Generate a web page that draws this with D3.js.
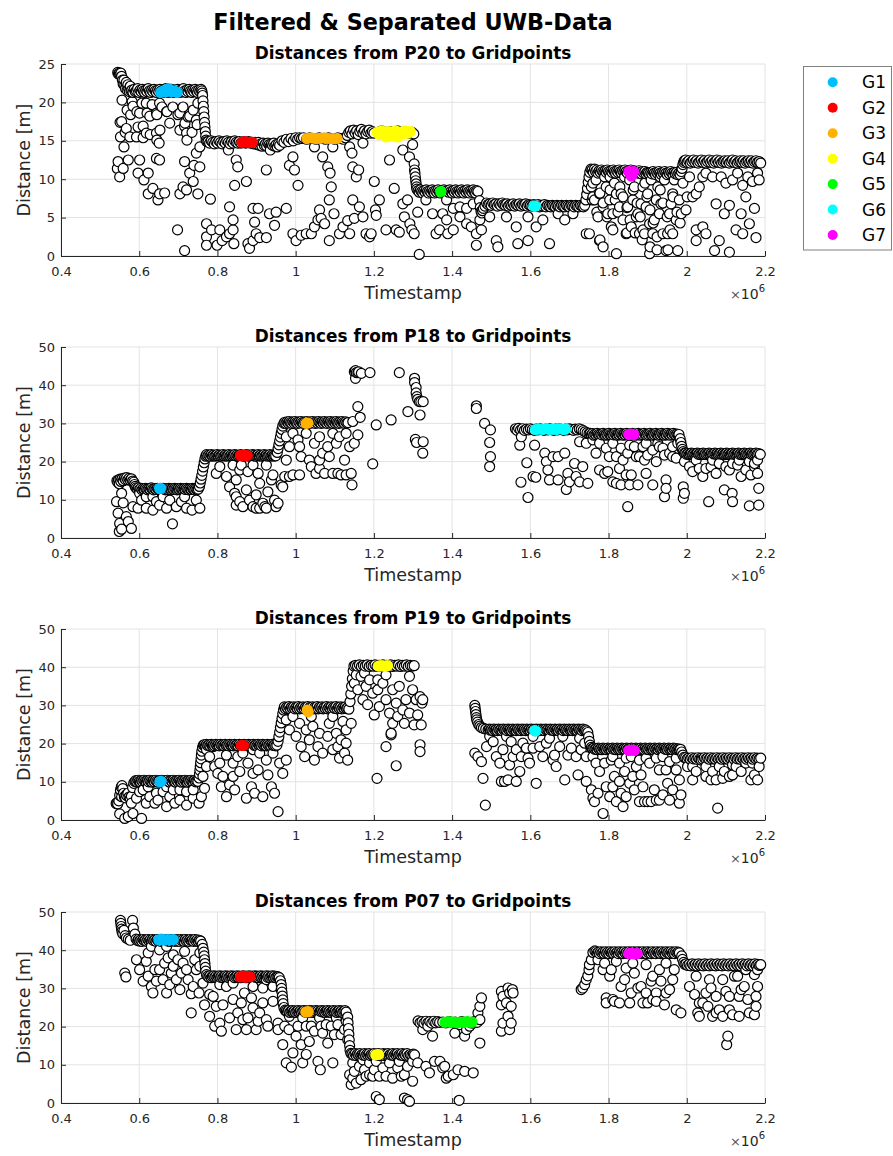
<!DOCTYPE html>
<html>
<head>
<meta charset="utf-8">
<script src="https://cdn.jsdelivr.net/npm/d3@7"></script>
<style>
  body { margin: 0; background: #fff; }
  svg { display: block; }
  text { font-family: "DejaVu Sans", "Liberation Sans", Arial, sans-serif; }
</style>
</head>
<body>
<svg id="chart" width="893" height="1156"></svg>
<script>
// Timestamps are stored in units of 10^3 (the axis shows them in units of 10^6).
// Distances are in metres. Arrays are flat: t, d, t, d, ...

const gridNames = ["G1", "G2", "G3", "G4", "G5", "G6", "G7"];
const gridColors = ["#00bfff", "#ff0000", "#ffb300", "#ffff00", "#00ff00", "#00ffff", "#ff00ff"];
const xTicks = [400, 600, 800, 1000, 1200, 1400, 1600, 1800, 2000, 2200];
const p20YTicks = [0, 5, 10, 15, 20, 25];
const wideYTicks = [0, 10, 20, 30, 40, 50];

// ---------- P20 ----------
const p20Track = [
545,23.9,547,23.7,549,23.8,551,23.6,553,23.8,555,23.4,557,22.9,559,22.4,561,22.9,563,22.2,565,21.8,567,22.6,569,21.6,571,22.3,573,21.7,575,21.4,577,22.1,579,21.5,
581,21.6,584,21.3,587,21.7,590,21.4,593,21.5,596,21.8,599,21.3,602,21.6,605,21.4,608,21.7,611,21.5,614,21.3,617,21.6,620,21.4,623,21.8,626,21.5,629,21.3,632,21.6,635,21.4,638,21.7,641,21.5,644,21.3,647,21.6,650,21.4,653,21.7,656,21.5,659,21.3,662,21.6,665,21.4,668,21.8,671,21.5,674,21.3,677,21.6,680,21.4,683,21.7,686,21.5,689,21.3,692,21.6,695,21.4,698,21.7,701,21.5,704,21.3,707,21.6,710,21.4,713,21.8,716,21.5,719,21.3,722,21.6,725,21.4,728,21.7,731,21.5,734,21.3,737,21.6,740,21.4,743,21.7,746,21.5,749,21.3,752,21.6,755,21.4,758,21.7,760,21.5,
761,21.2,762,20.9,763,20.2,764,19.5,765,18.8,766,18.1,767,17.4,768,16.8,769,16.2,770,15.6,771,15.1,773,14.9,
776,14.9,780,14.7,784,15.0,788,14.8,792,14.6,796,14.9,800,14.7,804,15.0,808,14.8,812,14.6,816,14.9,820,14.7,824,15.0,828,14.8,832,14.6,836,14.9,840,14.7,844,15.0,848,14.8,852,14.7,856,14.9,860,14.7,864,14.8,868,14.9,872,14.7,876,14.8,880,14.9,884,14.7,888,14.8,892,14.6,896,14.8,
899,14.7,902,14.5,905,14.8,908,14.4,911,14.6,914,14.3,917,14.7,920,14.4,923,14.6,926,14.3,929,14.7,932,14.5,935,14.3,938,14.6,941,14.4,944,14.7,947,14.3,950,14.5,953,14.2,956,14.6,959,14.4,
965,15.0,970,14.8,976,15.2,982,14.9,988,15.3,994,15.0,1000,15.4,1005,15.2,1010,15.4,1015,15.3,1020,15.4,1028,15.2,1036,15.4,1044,15.3,1052,15.2,1060,15.4,1068,15.3,1076,15.2,1084,15.4,1092,15.3,1100,15.2,1108,15.4,1116,15.3,1122,15.2,1127,15.4,
1132,15.7,1136,16.1,1140,16.3,1144,15.9,1148,16.4,1152,16.0,1156,16.3,1160,15.8,1164,16.2,1168,16.5,1172,16.0,1176,16.3,1180,15.9,1184,16.2,1188,16.4,1192,16.0,1196,16.2,1200,16.0,1210,16.1,1220,16.3,1230,15.9,1240,16.2,1250,16.0,1260,16.3,1270,15.9,1280,16.2,1290,16.0,1298,16.1,
1302,15.9,1303,12.0,1304,11.2,1305,10.8,1306,10.3,1307,9.8,1308,9.4,1309,9.0,1310,8.7,
1313,8.5,1316,8.3,1319,8.6,1322,8.4,1325,8.2,1328,8.5,1331,8.3,1334,8.6,1337,8.4,1340,8.2,1343,8.5,1346,8.3,1349,8.6,1352,8.4,1355,8.2,1358,8.5,1361,8.3,1364,8.6,1367,8.4,1370,8.2,1373,8.5,1376,8.3,1379,8.6,1382,8.4,1385,8.2,1388,8.5,1391,8.3,1394,8.6,1397,8.4,1400,8.2,1403,8.5,1406,8.3,1409,8.6,1412,8.4,1415,8.2,1418,8.5,1421,8.3,1424,8.6,1427,8.4,1430,8.2,1433,8.5,1436,8.3,1439,8.6,1442,8.4,1445,8.2,1448,8.5,1451,8.3,1454,8.6,1457,8.4,1460,8.2,1463,8.5,1466,8.4,
1470,7.2,1472,6.3,1474,5.8,1476,5.6,1478,5.9,1480,6.2,1484,6.5,
1488,6.9,1492,6.7,1496,6.8,1500,6.6,1504,6.9,1508,6.7,1512,6.8,1516,6.5,1520,6.8,1524,6.6,1528,6.9,1532,6.7,1536,6.6,1540,6.8,1544,6.5,1548,6.7,1552,6.6,1556,6.8,1560,6.5,1564,6.7,1568,6.6,1572,6.8,1576,6.5,1580,6.7,1584,6.6,1588,6.8,1592,6.5,1596,6.7,1600,6.6,1604,6.5,1608,6.7,1612,6.6,1616,6.5,1620,6.7,1624,6.4,1628,6.6,1632,6.5,1636,6.7,1640,6.4,1644,6.6,1648,6.5,1652,6.4,1656,6.6,1660,6.5,1664,6.4,1668,6.6,1672,6.5,1676,6.4,1680,6.6,1684,6.5,1688,6.4,1692,6.6,1696,6.5,1700,6.4,1704,6.6,1708,6.5,1712,6.4,1716,6.6,1720,6.5,1724,6.4,1728,6.6,1732,6.5,1736,6.4,1739,6.6,
1742,7.3,1744,8.0,1746,8.8,1748,9.6,1750,10.3,1752,10.9,1755,11.3,
1758,11.2,1761,10.9,1764,11.3,1767,11.0,1770,11.2,1773,10.8,1776,11.1,1779,10.9,1782,11.2,1785,11.0,1788,10.8,1791,11.1,1794,10.9,1797,11.2,1800,11.0,1803,10.8,1806,11.1,1809,10.9,1812,11.2,1815,11.0,1818,10.8,1821,11.1,1824,10.9,1827,11.2,1830,11.0,1833,10.8,1836,11.1,1839,10.9,1842,11.2,1845,11.0,1848,10.8,1851,11.1,1854,10.9,1857,11.2,1860,11.0,1863,10.8,1866,11.1,1869,10.9,1872,11.0,1875,10.8,1878,11.1,1881,10.9,1884,10.7,1887,11.0,1890,10.8,1893,11.0,1896,10.7,1899,10.9,1902,10.8,1905,10.6,1908,10.9,1911,10.7,1914,11.0,1917,10.8,1920,10.6,1923,10.9,1926,10.7,1929,11.0,1932,10.8,1935,10.6,1938,10.9,1941,10.7,1944,11.0,1947,10.8,1950,10.6,1953,10.9,1956,10.7,1959,11.0,1962,10.8,1965,10.6,1968,10.9,1971,10.7,1974,10.9,1977,10.6,1980,10.8,1983,10.6,
1986,11.0,1988,11.4,1990,11.9,1992,12.2,1994,12.4,
1997,12.5,2001,12.2,2005,12.4,2009,12.1,2013,12.3,2017,12.5,2021,12.2,2025,12.4,2029,12.1,2033,12.3,2037,12.5,2041,12.2,2045,12.4,2049,12.1,2053,12.3,2057,12.5,2061,12.2,2065,12.4,2069,12.1,2073,12.3,2077,12.5,2081,12.2,2085,12.4,2089,12.1,2093,12.3,2097,12.4,2101,12.2,2105,12.4,2109,12.1,2113,12.3,2117,12.5,2121,12.2,2125,12.4,2129,12.1,2133,12.3,2137,12.4,2141,12.2,2145,12.4,2149,12.1,2153,12.3,2157,12.4,2161,12.2,2165,12.4,2169,12.1,2173,12.3,2177,12.4,2181,12.2,2185,12.3,2189,12.1
];
const p20Outliers = [
555,17.5,552,15.5,561,14.2,546,12.3,544,11.4,550,10.3,559,11.4,572,12.5,567,16.6,578,18.4,584,19.5,593,15.5,601,12.5,597,10.8,612,9.9,623,10.8,623,8.1,635,8.8,648,7.3,652,8.1,665,8.2,644,12.7,652,12.5,651,14.7,644,16.0,618,16.0,610,16.9,627,18.2,601,18.6,644,18.6,670,18.8,678,17.3,652,19.9,618,19.9,
556,20.3,569,19.0,582,20.1,594,18.8,607,19.9,620,18.6,633,19.7,645,18.4,658,19.4,671,18.8,686,19.4,699,18.4,712,19.4,725,18.1,738,19.0,750,19.9,551,17.4,564,16.1,576,15.5,597,16.8,610,15.4,628,15.8,645,15.1,653,16.4,717,17.3,704,16.4,722,15.1,735,16.1,748,17.1,
698,3.4,716,0.7,704,8.1,712,9.0,721,8.6,738,9.7,729,10.8,740,11.8,755,11.6,716,12.3,750,8.1,746,13.4,704,18.6,716,16.9,721,16.0,729,18.2,746,17.7,755,14.2,
782,7.4,772,4.2,772,2.5,772,1.4,785,3.4,799,1.4,806,3.4,812,2.0,823,2.5,831,2.9,840,3.4,842,1.6,844,9.2,831,6.4,840,4.7,848,12.5,852,11.6,828,13.8,874,9.7,878,1.6,882,1.0,891,2.0,895,4.4,899,2.9,908,2.4,925,2.4,891,6.2,904,6.2,925,11.2,933,5.5,950,5.7,946,4.0,935,13.8,976,6.2,984,11.8,993,12.9,997,11.2,1006,9.2,993,2.9,1001,2.0,1014,2.7,1027,2.9,1040,2.9,1048,3.8,1057,4.7,1065,4.9,1086,7.3,1086,2.0,1061,6.0,1074,4.2,1048,14.2,1069,12.9,1082,11.6,1095,14.2,1088,10.8,1091,9.0,1098,5.5,1112,2.9,1121,3.8,1133,4.6,1138,2.9,1146,7.3,1150,4.9,1155,10.3,1161,11.2,1163,6.4,1172,5.1,1180,2.9,1189,2.5,1201,9.7,1204,6.0,1206,5.3,1193,2.9,1146,11.6,1144,13.4,1138,14.2,1172,14.7,1214,7.3,1231,3.4,1240,12.5,1252,8.8,1257,3.4,1265,3.1,1274,6.8,1278,5.1,1286,7.3,1292,4.2,1297,3.4,1303,2.9,1312,5.7,1316,0.2,1291,12.9,1299,14.5,1274,13.8,1333,7.3,1350,5.5,1359,2.9,1376,5.5,1389,2.9,1368,3.4,
1386,4.7,1403,3.4,1420,5.1,1437,4.2,1449,3.8,1462,2.9,1462,1.4,1475,3.4,1454,6.8,1420,6.4,1437,6.2,1403,6.2,1386,7.3,1471,4.7,1496,5.1,1513,2.0,1517,1.2,1564,3.8,1568,1.6,1594,2.0,1594,5.1,1615,3.8,1649,1.6,1688,4.7,1743,2.9,1777,2.0,1786,1.2,1820,0.3,1539,5.1,1632,4.7,1709,5.5,1671,5.5,
1768,9.9,1777,8.1,1786,6.4,1794,9.0,1803,7.3,1811,5.5,1820,8.1,1828,6.4,1837,4.7,1845,2.9,1854,9.9,1862,7.3,1871,5.1,1879,2.9,1888,9.0,1896,6.4,1905,4.2,1905,0.3,1913,2.9,1922,7.3,1930,5.5,1939,2.9,1947,0.7,1956,5.5,1964,8.1,1973,4.7,1977,0.7,1981,7.3,1998,6.0,2015,7.7,2024,2.0,1756,9.0,1764,7.3,1773,5.1,1790,10.3,1798,5.5,1807,3.8,1815,9.5,1832,8.1,1841,10.3,1849,6.4,1858,3.8,1866,9.0,1875,5.5,1883,6.8,1892,2.9,1900,8.1,1909,9.9,1917,4.7,1926,9.0,1934,6.8,1943,9.9,1951,2.9,1960,6.8,1968,9.9,1986,5.5,1964,2.9,1751,2.9,1760,7.7,
1760,9.5,1778,8.2,1758,7.3,1770,5.7,1786,6.9,1804,8.6,1796,5.1,1817,7.3,1829,9.0,1824,5.7,1837,7.7,1847,6.3,1855,4.7,1863,8.6,1873,6.9,1881,5.1,1888,3.4,1898,7.7,1906,6.0,1914,4.3,1924,2.5,1932,8.6,1939,6.9,1950,5.1,1957,3.4,1965,7.7,1975,5.7,1983,4.3,1990,9.5,2001,7.7,1924,0.8,1952,0.8,1906,1.2,1886,2.1,1868,3.0,1847,3.0,1811,3.4,1778,2.1,1893,9.5,1932,10.3,1804,10.3,
2024,8.1,2041,3.8,2049,2.9,2075,6.8,2083,2.0,2071,0.7,2096,5.5,2109,6.6,2109,0.5,2126,3.4,2143,2.9,2151,7.7,2160,4.2,2173,6.2,2177,2.4,2185,9.9,2117,9.9,2143,9.2,2168,9.7,2007,10.3,2041,10.3,2066,10.3,2088,10.3,2100,9.5,2032,9.0,2024,3.4,2049,10.8,2130,10.8,2156,10.3,2181,10.8,2139,5.5
];
// gridpoint samples: t, d, gridpoint number
const p20Grid = [
655,21.3,1,662,21.5,1,669,21.4,1,675,21.8,1,682,21.4,1,689,21.5,1,697,21.3,1,
863,14.8,2,870,14.9,2,877,14.8,2,884,14.8,2,889,14.8,2,
1029,15.3,3,1040,15.4,3,1051,15.3,3,1062,15.3,3,1073,15.4,3,1084,15.3,3,1095,15.3,3,1106,15.3,3,
1208,16.1,4,1214,15.8,4,1220,16.3,4,1226,16.0,4,1232,15.5,4,1238,16.2,4,1244,16.0,4,1250,15.6,4,1256,16.3,4,1262,15.5,4,1268,16.1,4,1275,15.9,4,1281,16.3,4,1287,16.0,4,1293,16.2,4,
1371,8.4,5,
1609,6.5,6,1613,6.5,6,
1852,11.0,7,1858,10.8,7,1864,11.0,7,1858,10.4,7
];

// ---------- P18 ----------
const p18Track = [
543,15.0,545,14.6,547,15.2,549,14.2,551,15.4,553,14.8,556,15.5,559,15.0,562,15.7,565,15.3,568,15.8,571,15.2,574,15.6,577,15.1,580,15.5,583,14.9,586,14.6,588,14.0,590,13.5,592,13.1,
595,12.8,598,13.1,601,12.7,604,13.0,607,12.6,610,12.9,613,12.7,616,13.0,619,12.8,622,12.6,625,12.9,628,12.7,631,13.1,634,12.8,637,12.6,640,12.9,643,12.7,646,13.0,649,12.8,652,12.6,655,12.9,658,12.7,661,13.0,664,12.8,667,12.6,670,12.9,673,12.7,676,13.0,679,12.8,682,12.6,685,12.9,688,12.7,691,13.0,694,12.8,697,12.6,700,12.9,703,12.7,706,13.0,709,12.8,712,12.6,715,12.9,718,12.7,721,13.0,724,12.8,727,12.6,730,12.9,733,12.7,736,13.0,739,12.8,742,12.6,745,12.9,748,12.7,751,12.8,
754,13.5,756,14.4,758,15.4,760,16.4,762,17.5,764,18.6,766,19.7,768,20.7,770,21.4,
772,21.8,775,21.5,778,21.7,781,21.4,784,21.8,787,21.5,790,21.7,793,21.4,796,21.6,799,21.8,802,21.5,805,21.7,808,21.4,811,21.6,814,21.8,817,21.5,820,21.7,823,21.4,826,21.6,829,21.8,832,21.5,835,21.7,838,21.4,841,21.6,844,21.8,847,21.5,850,21.7,853,21.4,856,21.6,859,21.8,862,21.5,865,21.7,868,21.4,871,21.6,874,21.8,877,21.5,880,21.7,883,21.4,886,21.6,889,21.8,892,21.5,895,21.7,898,21.4,901,21.6,904,21.8,907,21.5,910,21.7,913,21.4,916,21.6,919,21.8,922,21.5,925,21.7,928,21.4,931,21.6,934,21.8,937,21.5,940,21.7,943,21.4,946,21.6,949,21.5,
953,22.4,955,23.4,957,24.4,959,25.4,961,26.4,963,27.4,965,28.4,967,29.3,970,30.0,
972,30.3,975,30.0,978,30.4,981,30.1,984,30.5,987,30.2,990,30.0,993,30.4,996,30.1,999,30.5,1002,30.2,1005,30.0,1008,30.4,1011,30.1,1014,30.5,1017,30.2,1020,30.0,1023,30.4,1026,30.1,1029,30.5,1032,30.2,1035,30.0,1038,30.4,1041,30.1,1044,30.5,1047,30.2,1050,30.0,1053,30.4,1056,30.1,1059,30.5,1062,30.2,1065,30.0,1068,30.4,1071,30.1,1074,30.5,1077,30.2,1080,30.0,1083,30.4,1086,30.1,1089,30.5,1092,30.2,1095,30.0,1098,30.4,1101,30.1,1104,30.5,1107,30.2,1110,30.0,1113,30.4,1116,30.1,1119,30.5,1122,30.2,1125,30.0,1128,30.4,1131,30.1,1134,30.2,
1562,28.6,1566,28.2,1570,28.7,1575,28.3,1580,28.6,1585,28.2,1590,28.5,1595,28.3,1600,28.6,1605,28.4,1610,28.2,1615,28.5,1620,28.3,1625,28.6,1630,28.4,1635,28.2,1640,28.5,1645,28.3,1650,28.6,1655,28.4,1660,28.2,1665,28.5,1670,28.3,1675,28.6,1680,28.4,1685,28.2,1690,28.5,1695,28.3,1700,28.6,1705,28.4,1710,28.2,1715,28.5,1720,28.3,1725,28.6,1730,28.4,1735,28.1,
1740,27.8,1745,27.5,1750,27.3,
1753,27.4,1756,27.0,1759,27.3,1762,26.9,1765,27.2,1768,27.0,1771,27.4,1774,27.1,1777,26.9,1780,27.2,1783,27.0,1786,27.4,1789,27.1,1792,26.9,1795,27.2,1798,27.0,1801,27.4,1804,27.1,1807,26.9,1810,27.2,1813,27.0,1816,27.4,1819,27.1,1822,26.9,1825,27.2,1828,27.0,1831,27.4,1834,27.1,1837,26.9,1840,27.2,1843,27.0,1846,27.4,1849,27.1,1852,26.9,1855,27.2,1858,27.0,1861,27.4,1864,27.1,1867,26.9,1870,27.2,1873,27.0,1876,27.4,1879,27.1,1882,26.9,1885,27.2,1888,27.0,1891,27.4,1894,27.1,1897,26.9,1900,27.2,1903,27.0,1906,27.4,1909,27.1,1912,26.9,1915,27.2,1918,27.0,1921,27.4,1924,27.1,1927,26.9,1930,27.2,1933,27.0,1936,27.4,1939,27.1,1942,26.9,1945,27.2,1948,27.0,1951,27.4,1954,27.1,1957,26.9,1960,27.2,1963,27.0,1966,27.4,1969,27.1,1972,26.9,1975,27.2,1978,27.0,1980,27.1,
1983,26.0,1985,25.0,1987,24.0,1989,23.2,1991,22.6,1994,22.2,
1997,22.2,2000,21.9,2003,22.1,2006,21.8,2009,22.0,2012,22.2,2015,21.9,2018,22.1,2021,21.8,2024,22.0,2027,22.2,2030,21.9,2033,22.1,2036,21.8,2039,22.0,2042,22.2,2045,21.9,2048,22.1,2051,21.8,2054,22.0,2057,22.2,2060,21.9,2063,22.1,2066,21.8,2069,22.0,2072,22.2,2075,21.9,2078,22.1,2081,21.8,2084,22.0,2087,22.2,2090,21.9,2093,22.1,2096,21.8,2099,22.0,2102,22.2,2105,21.9,2108,22.1,2111,21.8,2114,22.0,2117,22.2,2120,21.9,2123,22.1,2126,21.8,2129,22.0,2132,22.2,2135,21.9,2138,22.1,2141,21.8,2144,22.0,2147,22.2,2150,21.9,2153,22.1,2156,21.8,2159,22.0,2162,22.2,2165,21.9,2168,22.1,2171,21.8,2174,22.0,2177,22.2,2180,21.9,2184,22.1,2188,21.9
];
const p18Outliers = [
542,9.5,546,6.5,550,3.8,549,1.7,555,2.3,567,5.6,572,4.3,580,2.5,555,11.7,559,9.2,584,8.2,597,7.8,606,9.9,618,7.8,635,7.3,644,9.5,652,8.6,670,7.8,685,3.7,678,9.9,695,8.2,708,9.5,721,7.8,735,7.3,746,9.9,755,7.8,635,10.8,601,11.7,618,10.8,661,10.8,716,10.8,
797,16.9,806,18.7,823,16.1,831,13.4,840,19.1,844,11.7,848,15.2,857,9.5,865,8.2,874,12.6,878,17.4,882,9.9,891,8.2,899,11.3,904,16.9,908,14.3,916,9.1,925,7.8,929,12.1,938,15.2,946,9.9,955,9.1,950,8.2,942,16.5,963,13.9,972,16.1,925,19.1,891,19.1,861,19.1,848,8.6,899,7.8,908,7.8,921,8.2,848,10.8,857,17.8,
976,26.5,984,23.9,993,27.4,1006,25.7,1014,21.3,1027,27.4,1035,20.4,1040,18.7,1048,24.8,1061,18.2,1069,22.2,1074,16.9,1082,23.9,1086,21.3,1095,16.9,1104,24.8,1108,16.9,1116,16.5,1125,20.4,1129,16.5,1138,23.9,1142,16.9,1144,13.9,1150,24.8,1159,27.0,1129,27.4,1010,16.5,993,16.5,984,16.1,976,20.4,967,13.4,1061,20.4,1052,16.9,1061,26.5,1095,27.4,1112,26.5,1010,23.9,
1150,43.5,1153,43.8,1155,43.3,1159,43.3,1161,43.5,1168,43.1,1153,41.8,1190,43.3,1265,43.3,1159,34.4,1165,31.6,1146,30.5,1206,29.6,1197,19.4,1244,30.9,1287,33.1,1304,41.8,1304,40.7,1308,39.4,1308,38.0,1310,37.0,1312,36.3,1316,35.7,1320,35.7,1326,35.7,1318,32.2,1306,25.8,1309,25.0,1326,25.2,1325,22.2,
1462,34.6,1462,33.9,1483,30.0,1498,28.3,1496,25.0,1498,21.3,1496,18.7,
1573,24.3,1577,26.5,1591,19.7,1576,14.6,1594,10.6,1607,16.1,1614,15.9,1611,24.3,1637,22.2,1641,20.0,1645,17.8,1649,15.2,1658,21.3,1671,21.3,1671,15.2,1688,22.2,1696,16.9,1700,14.7,1692,12.7,1713,19.5,1717,16.1,1726,14.7,1734,18.7,1747,14.3,1726,25.2,1743,24.8,
1760,25.7,1768,22.2,1777,17.8,1790,16.9,1798,17.4,1802,21.3,1811,14.7,1820,14.3,1828,18.2,1832,13.9,1845,16.5,1849,22.2,1854,13.9,1858,16.5,1866,23.9,1875,13.9,1879,21.3,1888,23.9,1896,16.9,1900,21.7,1913,13.9,1922,20.0,1930,23.9,1939,23.5,1947,15.2,1947,13.0,1943,10.8,1956,22.2,1964,23.9,1973,20.9,1991,13.4,1994,11.7,1991,10.4,1849,8.2,1777,24.8,1794,23.5,1811,24.8,1832,23.5,1854,24.3,1871,21.3,1896,24.8,1913,23.0,1926,24.8,1943,21.7,1964,21.3,1977,24.8,1820,21.3,1837,20.4,1892,20.4,
1994,20.0,2007,18.7,2015,17.4,2032,18.2,2041,16.1,2049,18.2,2062,18.7,2075,16.9,2083,19.5,2100,18.7,2109,17.8,2117,19.5,2130,19.1,2139,16.1,2151,17.8,2164,16.5,2173,18.7,2181,16.9,2184,13.0,2056,9.5,2096,12.6,2116,11.7,2117,9.5,2160,8.4,2184,8.6,2173,19.5,2024,20.4,2066,20.4,2134,20.4,2160,20.0,2181,20.4
];
const p18Grid = [
652,13.0,1,655,13.0,1,
859,21.6,2,864,21.7,2,870,21.6,2,876,21.6,2,
1027,30.0,3,1031,30.1,3,
1613,28.4,6,1622,28.5,6,1631,28.4,6,1640,28.6,6,1649,28.4,6,1658,28.5,6,1667,28.4,6,1676,28.6,6,1685,28.4,6,1690,28.5,6,
1852,27.1,7,1858,27.2,7,1864,27.1,7
];

// ---------- P19 ----------
const p19Track = [
541,4.3,543,4.5,545,4.2,548,5.0,550,6.5,552,7.8,554,8.6,556,9.0,558,8.2,560,7.0,562,6.1,565,5.8,568,6.4,571,7.0,574,6.0,577,5.6,580,6.2,583,8.5,586,9.6,589,10.1,
591,10.3,594,10.0,597,10.4,600,10.1,603,9.9,606,10.3,609,10.0,612,10.4,615,10.1,618,9.9,621,10.3,624,10.0,627,10.4,630,10.1,633,9.9,636,10.3,639,10.0,642,10.4,645,10.1,648,9.9,651,10.3,654,10.0,657,10.4,660,10.1,663,9.9,666,10.3,669,10.0,672,10.4,675,10.1,678,9.9,681,10.3,684,10.0,687,10.4,690,10.1,693,9.9,696,10.3,699,10.0,702,10.4,705,10.1,708,9.9,711,10.3,714,10.0,717,10.4,720,10.1,723,9.9,726,10.3,729,10.0,732,10.4,735,10.1,738,9.9,741,10.3,744,10.0,747,10.2,750,10.1,
753,11.0,754,12.0,755,13.0,756,14.0,757,15.0,758,16.0,759,17.0,760,18.0,762,19.0,764,19.6,
766,19.7,769,19.4,772,19.8,775,19.5,778,19.7,781,19.4,784,19.8,787,19.5,790,19.7,793,19.4,796,19.8,799,19.5,802,19.7,805,19.4,808,19.8,811,19.5,814,19.7,817,19.4,820,19.8,823,19.5,826,19.7,829,19.4,832,19.8,835,19.5,838,19.7,841,19.4,844,19.8,847,19.5,850,19.7,853,19.4,856,19.8,859,19.5,862,19.7,865,19.4,868,19.8,871,19.5,874,19.7,877,19.4,880,19.8,883,19.5,886,19.7,889,19.4,892,19.8,895,19.5,898,19.7,901,19.4,904,19.8,907,19.5,910,19.7,913,19.4,916,19.8,919,19.5,922,19.7,925,19.4,928,19.8,931,19.5,934,19.7,937,19.4,940,19.8,943,19.5,946,19.7,949,19.4,952,19.6,
955,20.6,957,21.8,959,23.0,961,24.2,963,25.4,965,26.6,967,27.8,969,28.8,
971,29.6,974,29.1,977,29.5,980,29.2,983,29.7,986,29.1,989,29.5,992,29.2,995,29.6,998,29.1,1001,29.5,1004,29.2,1007,29.7,1010,29.1,1013,29.5,1016,29.2,1019,29.6,1022,29.1,1025,29.5,1028,29.2,1031,29.7,1034,29.1,1037,29.5,1040,29.2,1043,29.6,1046,29.1,1049,29.5,1052,29.2,1055,29.7,1058,29.1,1061,29.5,1064,29.2,1067,29.6,1070,29.1,1073,29.5,1076,29.2,1079,29.7,1082,29.1,1085,29.5,1088,29.2,1091,29.6,1094,29.1,1097,29.5,1100,29.2,1103,29.7,1106,29.1,1109,29.5,1112,29.2,1115,29.6,1118,29.1,1121,29.5,1124,29.2,1127,29.6,1130,29.2,1133,29.4,1136,29.0,
1139,31.0,1141,33.0,1143,35.0,1145,37.0,1147,39.0,1149,40.3,
1153,40.5,1158,40.3,1163,40.6,1168,40.2,1173,40.5,1178,40.3,1183,40.6,1188,40.2,1193,40.5,1198,40.3,1203,40.6,1208,40.2,1213,40.5,1218,40.3,1223,40.6,1228,40.2,1233,40.5,1238,40.3,1243,40.6,1248,40.2,1253,40.5,1258,40.3,1263,40.6,1268,40.2,1273,40.5,1278,40.3,1283,40.6,1288,40.2,1293,40.5,1298,40.3,1303,40.4,
1458,30.0,1459,29.2,1460,28.4,1461,27.6,1462,26.8,1463,26.2,1465,25.6,1468,25.0,1471,24.6,1475,24.2,1480,24.0,1486,23.8,1492,23.6,
1495,23.8,1498,23.5,1501,23.7,1504,23.4,1507,23.8,1510,23.5,1513,23.7,1516,23.4,1519,23.8,1522,23.5,1525,23.7,1528,23.4,1531,23.8,1534,23.5,1537,23.7,1540,23.4,1543,23.8,1546,23.5,1549,23.7,1552,23.4,1555,23.8,1558,23.5,1561,23.7,1564,23.4,1567,23.8,1570,23.5,1573,23.7,1576,23.4,1579,23.8,1582,23.5,1585,23.7,1588,23.4,1591,23.8,1594,23.5,1597,23.7,1600,23.4,1603,23.8,1606,23.5,1609,23.7,1612,23.4,1615,23.8,1618,23.5,1621,23.7,1624,23.4,1627,23.8,1630,23.5,1633,23.7,1636,23.4,1639,23.8,1642,23.5,1645,23.7,1648,23.4,1651,23.8,1654,23.5,1657,23.7,1660,23.4,1663,23.8,1666,23.5,1669,23.7,1672,23.4,1675,23.8,1678,23.5,1681,23.7,1684,23.4,1687,23.8,1690,23.5,1693,23.7,1696,23.4,1699,23.8,1702,23.5,1705,23.7,1708,23.4,1711,23.8,1714,23.5,1717,23.7,1720,23.4,1723,23.8,1726,23.5,1729,23.7,1732,23.4,1735,23.8,1738,23.5,1741,23.6,1744,23.3,
1747,22.9,1749,21.8,1751,20.6,1753,19.6,1756,19.0,1759,18.7,
1762,18.8,1765,18.5,1768,18.7,1771,18.4,1774,18.8,1777,18.5,1780,18.7,1783,18.4,1786,18.8,1789,18.5,1792,18.7,1795,18.4,1798,18.8,1801,18.5,1804,18.7,1807,18.4,1810,18.8,1813,18.5,1816,18.7,1819,18.4,1822,18.8,1825,18.5,1828,18.7,1831,18.4,1834,18.8,1837,18.5,1840,18.7,1843,18.4,1846,18.8,1849,18.5,1852,18.7,1855,18.4,1858,18.8,1861,18.5,1864,18.7,1867,18.4,1870,18.8,1873,18.5,1876,18.7,1879,18.4,1882,18.8,1885,18.5,1888,18.7,1891,18.4,1894,18.8,1897,18.5,1900,18.7,1903,18.4,1906,18.8,1909,18.5,1912,18.7,1915,18.4,1918,18.8,1921,18.5,1924,18.7,1927,18.4,1930,18.8,1933,18.5,1936,18.7,1939,18.4,1942,18.8,1945,18.5,1948,18.7,1951,18.4,1954,18.8,1957,18.5,1960,18.7,1963,18.4,1966,18.8,1969,18.5,1972,18.7,1975,18.4,1978,18.6,1981,18.4,1984,18.5,
1987,17.8,1990,17.0,1993,16.4,
1997,16.3,2001,16.0,2005,16.2,2009,15.9,2013,16.3,2017,16.0,2021,16.2,2025,15.9,2029,16.3,2033,16.0,2037,16.2,2041,15.9,2045,16.3,2049,16.0,2053,16.2,2057,15.9,2061,16.3,2065,16.0,2069,16.2,2073,15.9,2077,16.3,2081,16.0,2085,16.2,2089,15.9,2093,16.3,2097,16.0,2101,16.2,2105,15.9,2109,16.3,2113,16.0,2117,16.2,2121,15.9,2125,16.3,2129,16.0,2133,16.2,2137,15.9,2141,16.3,2145,16.0,2149,16.2,2153,15.9,2157,16.3,2161,16.0,2165,16.2,2169,15.9,2173,16.3,2177,16.0,2181,16.2,2185,16.0,2189,16.2
];
const p19Outliers = [
550,1.6,563,0.4,572,0.9,584,1.7,606,0.4,555,6.1,567,6.6,580,4.4,593,5.7,601,7.4,618,4.4,627,6.1,640,4.4,648,5.2,661,7.4,670,3.5,678,6.1,691,4.4,704,5.2,721,3.9,738,5.7,753,4.4,759,6.1,767,8.3,644,7.0,687,7.9,610,7.9,623,8.7,721,7.4,670,8.7,704,7.9,738,7.9,
772,18.4,780,16.6,793,14.0,801,12.2,806,14.9,814,11.4,823,6.1,831,9.2,840,14.9,840,11.4,852,16.6,857,12.7,865,17.5,874,5.7,878,14.9,887,8.7,895,7.0,904,13.1,908,17.5,916,6.1,925,15.7,929,11.8,938,8.7,946,7.0,955,2.2,959,14.9,967,12.2,976,15.7,789,19.2,823,17.0,891,18.4,763,11.4,772,14.0,810,8.7,844,7.9,891,12.2,942,17.5,
976,26.2,984,23.6,993,27.1,1001,21.9,1010,25.3,1014,19.2,1023,16.6,1027,23.6,1035,21.0,1040,27.1,1048,15.7,1057,19.2,1061,22.7,1069,17.5,1082,21.9,1086,25.3,1095,18.4,1104,22.7,1108,19.2,1112,16.2,1116,21.0,1125,17.5,1129,23.6,1133,15.7,1142,25.3,1129,20.1,1044,24.5,1095,27.1,1121,25.8,
1150,35.8,1159,34.1,1167,37.6,1172,31.5,1180,35.0,1184,30.2,1189,36.7,1197,33.2,1201,27.5,1210,34.1,1214,29.7,1223,35.8,1231,19.2,1231,31.5,1240,28.0,1244,22.3,1248,34.1,1257,30.6,1261,27.1,1265,35.0,1274,28.8,1278,25.3,1282,31.5,1291,28.0,1299,34.1,1303,24.9,1308,31.5,1312,27.5,1318,32.3,1325,31.5,1323,30.6,1321,24.9,1318,19.7,1318,17.9,1208,10.9,1257,14.2,1244,22.7,1210,36.7,1176,38.5,1155,38.0,1231,38.0,1291,37.6,1248,25.3,
1458,17.5,1466,16.6,1475,15.3,1479,10.9,1485,3.9,1488,19.2,1505,20.5,1513,16.6,1522,14.9,1526,10.1,1534,10.1,1543,10.5,1547,14.4,1551,20.5,1556,16.6,1564,10.1,1573,12.7,1577,16.6,1581,20.1,1590,18.8,1594,16.2,1598,14.9,1607,18.8,1615,9.6,1624,19.2,1632,16.6,1641,20.1,1658,15.7,1662,17.0,1666,14.0,1675,19.2,1688,10.5,1696,17.0,1705,18.8,1717,16.6,1722,11.8,1730,18.4,1739,20.1,1743,16.6,1496,21.9,1539,21.9,1607,21.9,1649,21.4,1683,21.9,1726,21.4,1530,18.4,1564,18.4,
1743,10.1,1756,7.9,1760,5.7,1764,4.8,1773,7.0,1777,12.7,1786,1.7,1790,14.9,1794,8.7,1803,6.1,1807,15.7,1815,11.4,1820,4.8,1828,10.1,1837,3.5,1841,12.7,1845,6.1,1854,9.6,1858,16.6,1866,7.9,1871,14.0,1879,4.8,1883,11.8,1892,4.8,1900,4.8,1909,4.8,1917,7.9,1922,5.2,1930,5.2,1930,13.1,1939,6.6,1947,13.1,1951,9.6,1956,5.2,1964,7.9,1973,16.2,1973,13.1,1981,4.4,1985,6.6,1981,10.5,1922,16.2,1896,16.2,1760,16.6,1768,14.9,1811,16.6,1828,14.9,1845,16.2,1879,15.7,1905,14.9,1939,16.6,1956,15.3,1888,8.7,1862,11.4,1811,8.7,1832,7.0,
2002,14.0,2015,10.5,2024,12.7,2037,15.7,2049,11.4,2062,10.5,2075,10.5,2079,3.1,2092,10.9,2109,11.4,2117,11.8,2126,14.0,2139,12.7,2151,14.9,2164,10.5,2173,11.8,2181,10.5,2185,14.0,2168,14.9,2015,14.0,2049,14.0,2083,14.0,2117,14.4,2066,12.7,2096,12.7
];
const p19Grid = [
653,10.0,1,656,10.1,1,
861,19.5,2,867,19.5,2,
1030,28.8,3,1032,28.3,3,
1212,40.3,4,1218,40.4,4,1224,40.3,4,1230,40.3,4,1235,40.4,4,
1611,23.4,6,1614,23.3,6,
1852,18.2,7,1859,18.3,7,1866,18.2,7
];

// ---------- P07 ----------
const p07Track = [
552,47.8,553,47.0,554,46.2,555,45.5,556,44.9,558,44.3,561,45.2,564,43.8,567,43.2,572,42.9,577,42.6,583,47.8,585,45.8,589,44.2,592,42.9,596,42.5,
598,42.8,601,42.4,604,42.7,607,42.3,610,42.8,613,42.5,616,42.7,619,42.3,622,42.8,625,42.4,628,42.7,631,42.3,634,42.8,637,42.5,640,42.7,643,42.3,646,42.8,649,42.4,652,42.7,655,42.3,658,42.8,661,42.5,664,42.7,667,42.3,670,42.8,673,42.4,676,42.7,679,42.3,682,42.8,685,42.5,688,42.7,691,42.3,694,42.8,697,42.4,700,42.7,703,42.3,706,42.8,709,42.5,712,42.7,715,42.3,718,42.8,721,42.4,724,42.7,727,42.3,730,42.8,733,42.5,736,42.7,739,42.3,742,42.8,745,42.4,748,42.7,751,42.3,754,42.6,757,42.4,
761,41.5,763,40.5,765,39.5,766,38.5,767,37.5,768,36.5,769,35.5,770,34.5,772,33.6,
775,33.2,778,32.9,781,33.3,784,32.8,787,33.1,790,33.3,793,32.9,796,33.2,799,32.8,802,33.1,805,33.3,808,32.9,811,33.2,814,32.8,817,33.1,820,33.3,823,32.9,826,33.2,829,32.8,832,33.1,835,33.3,838,32.9,841,33.2,844,32.8,847,33.1,850,33.3,853,32.9,856,33.2,859,32.8,862,33.1,865,33.3,868,32.9,871,33.2,874,32.8,877,33.1,880,33.3,883,32.9,886,33.2,889,32.8,892,33.1,895,33.3,898,32.9,901,33.2,904,32.8,907,33.1,910,33.3,913,32.9,916,33.2,919,32.8,922,33.1,925,33.3,928,32.9,931,33.2,934,32.8,937,33.1,940,33.3,943,32.9,946,33.2,949,32.8,952,33.1,955,33.0,958,32.8,
961,32.0,963,31.0,964,30.0,965,29.0,966,28.0,967,27.0,968,26.0,970,25.0,973,24.3,
976,24.1,979,23.8,982,24.2,985,23.7,988,24.0,991,24.2,994,23.8,997,24.1,1000,23.7,1003,24.0,1006,24.2,1009,23.8,1012,24.1,1015,23.7,1018,24.0,1021,24.2,1024,23.8,1027,24.1,1030,23.7,1033,24.0,1036,24.2,1039,23.8,1042,24.1,1045,23.7,1048,24.0,1051,24.2,1054,23.8,1057,24.1,1060,23.7,1063,24.0,1066,24.2,1069,23.8,1072,24.1,1075,23.7,1078,24.0,1081,24.2,1084,23.8,1087,24.1,1090,23.7,1093,24.0,1096,24.2,1099,23.8,1102,24.1,1105,23.7,1108,24.0,1111,24.2,1114,23.8,1117,24.1,1120,23.7,1123,24.0,1126,24.2,1129,23.8,
1133,22.5,1134,21.0,1135,19.5,1136,18.0,1137,16.5,1138,15.0,1139,13.8,1141,13.0,
1144,12.8,1148,12.5,1152,12.9,1155,12.4,1158,12.8,1161,12.5,1164,12.9,1167,12.4,1170,12.7,1173,12.5,1176,12.9,1179,12.4,1182,12.8,1185,12.5,1188,12.9,1191,12.4,1194,12.7,1197,12.5,1200,12.9,1203,12.4,1206,12.8,1209,12.5,1212,12.9,1215,12.4,1218,12.7,1221,12.5,1224,12.9,1227,12.4,1230,12.8,1233,12.5,1236,12.9,1239,12.4,1242,12.7,1245,12.5,1248,12.9,1251,12.4,1254,12.8,1257,12.5,1260,12.9,1263,12.4,1266,12.7,1269,12.5,1272,12.9,1275,12.4,1278,12.8,1281,12.5,1285,12.9,1289,12.4,1293,12.7,1297,12.5,1301,12.8,1304,12.6,
1313,21.5,1318,21.0,1323,21.3,1328,20.9,1333,21.4,1338,21.0,1343,21.3,1348,20.9,1353,21.4,1358,21.0,1363,21.3,1368,21.1,1376,21.2,1384,21.0,1392,21.3,1400,21.1,1408,21.2,1416,21.0,1424,21.3,1432,21.1,1440,21.2,1448,21.0,1456,21.3,1464,21.1,
1730,29.7,1734,30.1,1739,31.0,1743,32.3,1747,33.3,1750,34.9,1751,36.2,1756,37.5,1760,39.4,1765,39.8,
1768,39.6,1771,39.2,1774,39.5,1777,39.1,1780,39.6,1783,39.3,1786,39.5,1789,39.1,1792,39.6,1795,39.2,1798,39.5,1801,39.1,1804,39.6,1807,39.3,1810,39.5,1813,39.1,1816,39.6,1819,39.2,1822,39.5,1825,39.1,1828,39.6,1831,39.3,1834,39.5,1837,39.1,1840,39.6,1843,39.2,1846,39.5,1849,39.1,1852,39.6,1855,39.3,1858,39.5,1861,39.1,1864,39.6,1867,39.2,1870,39.5,1873,39.1,1876,39.6,1879,39.3,1882,39.5,1885,39.1,1888,39.6,1891,39.2,1894,39.5,1897,39.1,1900,39.6,1903,39.3,1906,39.5,1909,39.1,1912,39.6,1915,39.2,1918,39.5,1921,39.1,1924,39.6,1927,39.3,1930,39.5,1933,39.1,1936,39.6,1939,39.2,1942,39.5,1945,39.1,1948,39.6,1951,39.3,1954,39.5,1957,39.1,1960,39.6,1963,39.2,1966,39.5,1969,39.1,1972,39.6,1975,39.3,1978,39.5,1981,39.3,
1987,38.5,1989,37.6,1992,36.8,1995,36.3,
1998,36.4,2002,36.0,2006,36.3,2010,35.9,2014,36.4,2018,36.0,2022,36.3,2026,35.9,2030,36.4,2034,36.0,2038,36.3,2042,35.9,2046,36.4,2050,36.0,2054,36.3,2058,35.9,2062,36.4,2066,36.0,2070,36.3,2074,35.9,2078,36.4,2082,36.0,2086,36.3,2090,35.9,2094,36.4,2098,36.0,2102,36.3,2106,35.9,2110,36.4,2114,36.0,2118,36.3,2122,35.9,2126,36.4,2130,36.0,2134,36.3,2138,35.9,2142,36.4,2146,36.0,2150,36.3,2154,35.9,2158,36.4,2162,36.0,2166,36.3,2170,35.9,2174,36.4,2178,36.0,2182,36.3,2186,36.0,2189,36.2
];
const p07Outliers = [
563,34.0,566,33.0,
610,31.9,623,33.2,631,30.5,635,28.8,644,31.9,652,34.9,661,32.3,665,36.6,670,28.8,678,31.0,682,34.0,687,35.8,695,32.3,704,29.7,708,34.0,712,36.6,721,34.9,725,32.3,733,28.6,733,23.6,738,30.5,746,34.9,753,28.8,755,35.8,763,31.4,623,39.3,652,40.1,687,38.8,716,39.7,755,39.3,618,37.1,593,37.5,601,34.9,640,34.9,674,38.0,699,37.5,742,37.5,631,41.0,670,41.0,
767,25.7,780,22.7,789,27.9,793,20.1,806,20.9,810,18.8,814,25.7,823,30.5,831,22.3,840,27.1,848,19.2,852,23.6,861,26.2,869,28.8,874,19.2,878,22.3,887,27.5,891,24.9,899,19.2,904,21.4,908,23.6,916,30.1,925,21.8,929,20.1,942,26.6,955,20.9,955,19.2,963,29.7,840,31.4,806,31.0,780,28.4,891,30.5,925,32.3,942,30.5,797,25.3,865,21.8,916,26.2,
967,15.3,972,20.1,976,10.5,983,19.2,989,9.4,993,13.1,1001,17.5,1006,20.1,1014,15.3,1018,10.5,1027,12.7,1027,20.1,1040,20.1,1048,18.8,1057,10.9,1063,8.7,1065,20.1,1069,18.3,1078,20.5,1091,20.1,1095,10.5,1099,17.9,1108,20.5,1116,17.9,1125,19.2,1133,16.6,984,22.7,1018,22.3,1061,22.3,1104,22.3,1129,21.4,1035,16.1,1082,15.7,
1138,7.4,1142,4.8,1146,6.5,1150,8.3,1155,5.2,1163,9.6,1167,6.1,1176,8.7,1189,7.4,1197,7.0,1201,8.7,1214,7.0,1223,9.2,1231,7.0,1240,10.5,1248,6.5,1261,9.2,1270,7.0,1278,7.4,1286,9.6,1299,5.7,1312,10.5,1299,10.9,1206,1.7,1214,0.9,1278,1.3,1286,0.9,1291,0.4,1189,10.5,1146,10.5,1172,11.3,1206,10.9,1265,10.9,1180,7.0,
1333,9.6,1342,7.9,1355,10.9,1376,9.2,1385,6.5,1325,19.2,1338,20.1,1350,17.5,
1407,18.3,1420,20.5,1432,17.5,1437,19.2,1445,20.1,1454,20.9,1471,15.7,1471,25.3,1475,27.5,1466,23.6,1471,21.8,1369,10.9,1381,9.6,1390,7.0,1403,7.4,1415,8.7,1432,8.3,1454,7.9,1418,0.7,
1526,18.8,1526,29.2,1530,27.9,1539,26.2,1543,30.1,1547,28.8,1554,29.7,1526,25.7,1551,25.3,1543,22.7,1530,20.9,1551,20.9,1547,19.2,1556,28.8,
1786,34.9,1794,27.5,1803,33.2,1807,34.9,1815,26.6,1828,26.2,1832,30.5,1841,32.3,1845,35.3,1854,26.2,1858,28.8,1866,34.0,1875,30.1,1883,30.5,1888,26.2,1896,28.8,1900,26.2,1909,31.9,1913,27.1,1922,28.8,1930,34.9,1934,31.9,1943,25.7,1947,28.8,1956,29.7,1968,34.9,1973,24.4,1985,23.6,1794,26.2,1811,27.1,1922,26.6,1773,37.5,1790,36.6,1820,37.1,1862,36.6,1896,36.2,1947,36.6,1964,32.3,1913,33.2,
2007,30.5,2020,28.4,2028,23.6,2032,22.7,2041,26.2,2049,28.8,2054,25.3,2062,30.1,2066,22.7,2075,27.9,2083,24.4,2092,22.7,2100,29.2,2109,27.9,2117,23.1,2122,33.2,2130,33.2,2134,27.9,2139,29.7,2147,30.5,2156,27.1,2160,23.6,2173,23.1,2177,27.9,2181,30.5,2177,25.3,2173,33.6,2105,17.5,2102,15.3,2024,33.2,2058,32.3,2092,32.3,2151,34.9,2181,34.9,2032,26.2,2075,23.6,2134,22.7,2109,24.4
];
const p07Grid = [
650,42.7,1,657,42.9,1,664,42.6,1,671,42.8,1,678,42.7,1,687,42.8,1,
859,33.0,2,865,33.2,2,871,32.9,2,877,33.1,2,883,33.0,2,
1026,23.8,3,1032,23.9,3,
1205,12.6,4,1212,12.7,4,
1382,21.1,5,1390,21.3,5,1398,21.1,5,1406,21.2,5,1414,21.0,5,1422,21.2,5,1430,21.1,5,1438,21.3,5,1446,21.1,5,1451,21.2,5,
1852,39.1,7,1859,39.2,7,1866,39.0,7,1873,39.1,7
];

// ---------- drawing ----------
const panels = [
  { anchor: "P20", yMax: 25, yTicks: p20YTicks, track: p20Track, outliers: p20Outliers, grid: p20Grid },
  { anchor: "P18", yMax: 50, yTicks: wideYTicks, track: p18Track, outliers: p18Outliers, grid: p18Grid },
  { anchor: "P19", yMax: 50, yTicks: wideYTicks, track: p19Track, outliers: p19Outliers, grid: p19Grid },
  { anchor: "P07", yMax: 50, yTicks: wideYTicks, track: p07Track, outliers: p07Outliers, grid: p07Grid }
];
const frames = [
  { top: 64, bottom: 256 },
  { top: 347, bottom: 538 },
  { top: 629, bottom: 820 },
  { top: 912, bottom: 1103 }
];
const plotLeft = 61, plotRight = 765, plotMid = (plotLeft + plotRight) / 2;
const axisColor = "#262626";
const markerR = 5;

function toPairs(flat) {
  const out = [];
  for (let i = 0; i < flat.length; i += 2) out.push([flat[i], flat[i + 1]]);
  return out;
}
function toTriples(flat) {
  const out = [];
  for (let i = 0; i < flat.length; i += 3) out.push([flat[i], flat[i + 1], flat[i + 2]]);
  return out;
}

const svg = d3.select("#chart");
svg.append("rect").attr("width", 893).attr("height", 1156).attr("fill", "#fff");

svg.append("text")
  .attr("x", plotMid).attr("y", 30)
  .attr("text-anchor", "middle")
  .style("font-size", "22.3px").style("font-weight", "bold").attr("fill", "#000")
  .text("Filtered & Separated UWB-Data");

const x = d3.scaleLinear().domain([400, 2200]).range([plotLeft, plotRight]);

panels.forEach((p, i) => {
  const box = frames[i];
  const y = d3.scaleLinear().domain([0, p.yMax]).range([box.bottom, box.top]);
  const g = svg.append("g");

  // grid
  g.append("g").selectAll("line").data(xTicks).join("line")
    .attr("x1", d => x(d)).attr("x2", d => x(d))
    .attr("y1", box.top).attr("y2", box.bottom)
    .attr("stroke", "#e3e3e3").attr("stroke-width", 1);
  g.append("g").selectAll("line").data(p.yTicks).join("line")
    .attr("x1", plotLeft).attr("x2", plotRight)
    .attr("y1", d => y(d)).attr("y2", d => y(d))
    .attr("stroke", "#e3e3e3").attr("stroke-width", 1);

  // axes (ticks point inward)
  const xa = g.append("g").attr("transform", `translate(0,${box.bottom})`)
    .call(d3.axisBottom(x).tickValues(xTicks).tickFormat(d => String(d / 1000))
      .tickSizeInner(-5).tickSizeOuter(0).tickPadding(11));
  const ya = g.append("g").attr("transform", `translate(${plotLeft},0)`)
    .call(d3.axisLeft(y).tickValues(p.yTicks).tickFormat(d => String(d))
      .tickSizeInner(-5).tickSizeOuter(0).tickPadding(6));
  [xa, ya].forEach(a => {
    a.attr("font-family", null).attr("font-size", null);
    a.select(".domain").attr("stroke", axisColor);
    a.selectAll(".tick line").attr("stroke", axisColor);
    a.selectAll(".tick text").attr("fill", axisColor).style("font-size", "13px");
  });

  // distance samples in time order
  const samples = toPairs(p.track).concat(toPairs(p.outliers)).sort((a, b) => a[0] - b[0]);
  g.append("g").selectAll("circle").data(samples).join("circle")
    .attr("cx", d => x(d[0])).attr("cy", d => y(d[1])).attr("r", markerR)
    .attr("fill", "#fff").attr("stroke", "#000").attr("stroke-width", 1.2);

  // gridpoint samples
  g.append("g").selectAll("circle").data(toTriples(p.grid)).join("circle")
    .attr("cx", d => x(d[0])).attr("cy", d => y(d[1])).attr("r", 5.6)
    .attr("fill", d => gridColors[d[2] - 1]);

  // titles and labels
  g.append("text")
    .attr("x", plotMid).attr("y", box.top - 5.5).attr("text-anchor", "middle")
    .style("font-size", "16.9px").style("font-weight", "bold").attr("fill", "#000")
    .text(`Distances from ${p.anchor} to Gridpoints`);
  g.append("text")
    .attr("x", plotMid).attr("y", box.bottom + 42.5).attr("text-anchor", "middle")
    .style("font-size", "17.5px").attr("fill", axisColor)
    .text("Timestamp");
  g.append("text")
    .attr("transform", `translate(29.5,${(box.top + box.bottom) / 2}) rotate(-90)`)
    .attr("text-anchor", "middle")
    .style("font-size", "17.5px").attr("fill", axisColor)
    .text("Distance [m]");
  const exp = g.append("text")
    .attr("x", plotRight).attr("y", box.bottom + 43).attr("text-anchor", "end")
    .attr("fill", axisColor);
  exp.append("tspan").style("font-size", "13px").attr("fill", "#555").text("\u00d7");
  exp.append("tspan").style("font-size", "14px").text("10");
  exp.append("tspan").style("font-size", "10px").attr("dy", -7).text("6");
});

// legend
const legend = svg.append("g");
legend.append("rect")
  .attr("x", 803.5).attr("y", 66.5).attr("width", 88).attr("height", 183.5)
  .attr("fill", "#fff").attr("stroke", "#808080").attr("stroke-width", 1);
const entries = legend.selectAll("g.entry").data(gridNames).join("g").attr("class", "entry")
  .attr("transform", (d, i) => `translate(0,${82.3 + i * 25.45})`);
entries.append("circle").attr("cx", 832.7).attr("cy", 0).attr("r", 5).attr("fill", (d, i) => gridColors[i]);
entries.append("text").attr("x", 862).attr("y", 6).style("font-size", "17px").attr("fill", "#000").text(d => d);
</script>
</body>
</html>
